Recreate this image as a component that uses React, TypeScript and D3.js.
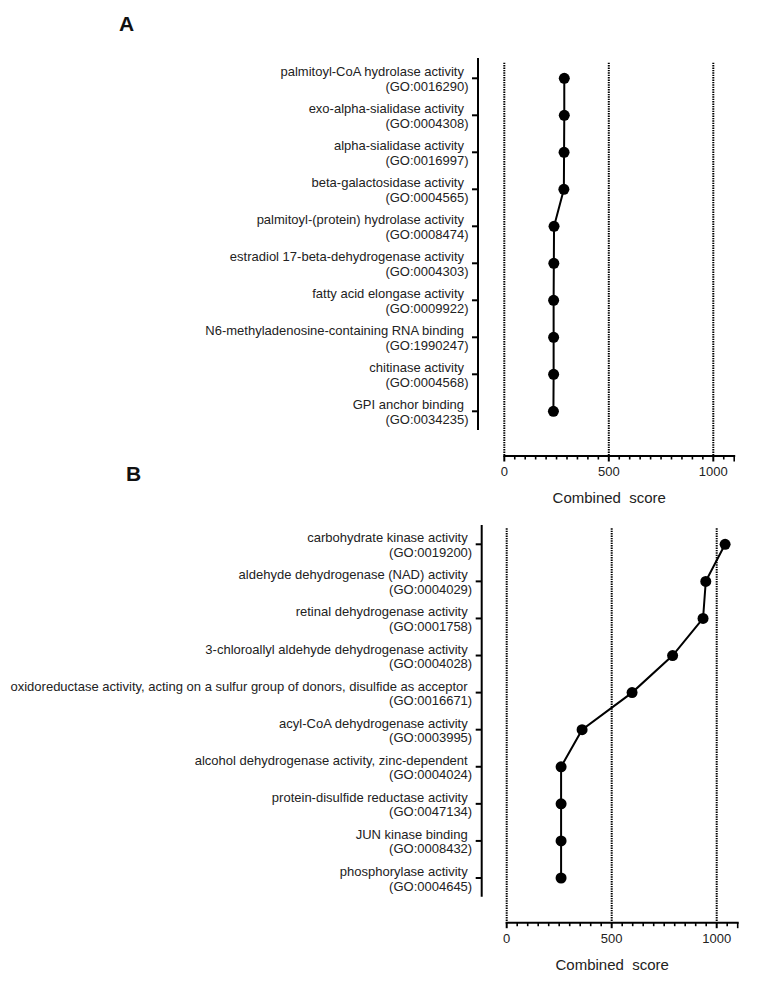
import React from "react";
import * as d3 from "d3";

const termsA = [
  "palmitoyl-CoA hydrolase activity",
  "exo-alpha-sialidase activity",
  "alpha-sialidase activity",
  "beta-galactosidase activity",
  "palmitoyl-(protein) hydrolase activity",
  "estradiol 17-beta-dehydrogenase activity",
  "fatty acid elongase activity",
  "N6-methyladenosine-containing RNA binding",
  "chitinase activity",
  "GPI anchor binding",
];
const goA = [
  "GO:0016290", "GO:0004308", "GO:0016997", "GO:0004565", "GO:0008474",
  "GO:0004303", "GO:0009922", "GO:1990247", "GO:0004568", "GO:0034235",
];
const scoresA = [287, 287, 286, 285, 238, 237, 236, 236, 236, 235];

const termsB = [
  "carbohydrate kinase activity",
  "aldehyde dehydrogenase (NAD) activity",
  "retinal dehydrogenase activity",
  "3-chloroallyl aldehyde dehydrogenase activity",
  "oxidoreductase activity, acting on a sulfur group of donors, disulfide as acceptor",
  "acyl-CoA dehydrogenase activity",
  "alcohol dehydrogenase activity, zinc-dependent",
  "protein-disulfide reductase activity",
  "JUN kinase binding",
  "phosphorylase activity",
];
const goB = [
  "GO:0019200", "GO:0004029", "GO:0001758", "GO:0004028", "GO:0016671",
  "GO:0003995", "GO:0004024", "GO:0047134", "GO:0008432", "GO:0004645",
];
const scoresB = [1040, 948, 935, 790, 597, 359, 259, 259, 259, 259];

const majorTicks = [0, 500, 1000];
const xDomain = [0, 1100];
const minorStep = 50;
const axisTitle = "Combined\u00a0\u00a0score";

const FONT = "'Liberation Sans', Arial, Helvetica, sans-serif";
const TEXT = "#222";

type PanelProps = {
  letter: string;
  letterX: number;
  letterY: number;
  terms: string[];
  gos: string[];
  scores: number[];
  axisX: number;
  yTop: number;
  yBottom: number;
  firstCat: number;
  lastCat: number;
  x0: number;
  x1000: number;
  gridTop: number;
  xAxisY: number;
};

function Panel(p: PanelProps) {
  const pxPerUnit = (p.x1000 - p.x0) / 1000;
  const x = d3
    .scaleLinear()
    .domain(xDomain)
    .range([p.x0, p.x0 + pxPerUnit * xDomain[1]]);
  const y = d3
    .scalePoint<string>()
    .domain(p.terms)
    .range([p.firstCat, p.lastCat]);
  const minor = d3.range(xDomain[0], xDomain[1] + 1, minorStep);
  const line = d3
    .line<number>()
    .x((d) => x(d))
    .y((_, i) => y(p.terms[i]) as number);

  return (
    <g>
      <text
        x={p.letterX}
        y={p.letterY}
        fontFamily={FONT}
        fontWeight="bold"
        fontSize={21}
        fill="#111"
      >
        {p.letter}
      </text>
      {majorTicks.map((t) => (
        <line
          key={"g" + t}
          x1={x(t)}
          x2={x(t)}
          y1={p.gridTop}
          y2={p.xAxisY}
          stroke="#000"
          strokeWidth={2}
          strokeDasharray="1.4 1"
        />
      ))}
      <line
        x1={p.axisX}
        x2={p.axisX}
        y1={p.yTop}
        y2={p.yBottom}
        stroke="#000"
        strokeWidth={2}
      />
      {p.terms.map((t, i) => {
        const cy = y(t) as number;
        return (
          <g key={t}>
            <line
              x1={p.axisX - 6}
              x2={p.axisX}
              y1={cy}
              y2={cy}
              stroke="#000"
              strokeWidth={2}
            />
            <text
              x={p.axisX - 14}
              y={cy - 2}
              textAnchor="end"
              fontFamily={FONT}
              fontSize={13}
              fill={TEXT}
            >
              {t}
            </text>
            <text
              x={p.axisX - 9.5}
              y={cy + 12.5}
              textAnchor="end"
              fontFamily={FONT}
              fontSize={13}
              fill={TEXT}
            >
              {"(" + p.gos[i] + ")"}
            </text>
          </g>
        );
      })}
      <line
        x1={x(xDomain[0]) - 1}
        x2={x(xDomain[1]) + 1}
        y1={p.xAxisY}
        y2={p.xAxisY}
        stroke="#000"
        strokeWidth={2}
      />
      {minor.map((t) => (
        <line
          key={"m" + t}
          x1={x(t)}
          x2={x(t)}
          y1={p.xAxisY}
          y2={p.xAxisY + (majorTicks.includes(t) || t === xDomain[1] ? 5.5 : 3.5)}
          stroke="#000"
          strokeWidth={majorTicks.includes(t) ? 2 : 1.6}
        />
      ))}
      {majorTicks.map((t) => (
        <text
          key={"l" + t}
          x={x(t)}
          y={p.xAxisY + 20}
          textAnchor="middle"
          fontFamily={FONT}
          fontSize={13}
          fill={TEXT}
        >
          {t}
        </text>
      ))}
      <text
        x={(x(0) + x(xDomain[1])) / 2 - 10}
        y={p.xAxisY + 47}
        textAnchor="middle"
        fontFamily={FONT}
        fontSize={15}
        fill={TEXT}
      >
        {axisTitle}
      </text>
      <path d={line(p.scores) || ""} fill="none" stroke="#000" strokeWidth={2} />
      {p.scores.map((s, i) => (
        <circle
          key={"c" + i}
          cx={x(s)}
          cy={y(p.terms[i]) as number}
          r={5.5}
          fill="#000"
        />
      ))}
    </g>
  );
}

export default function App() {
  return (
    <div style={{ position: "absolute", left: 0, top: 0 }}>
      <svg width={773} height={983} style={{ display: "block" }}>
        <rect width={773} height={983} fill="#fff" />
        <Panel
          letter="A"
          letterX={119}
          letterY={31}
          terms={termsA}
          gos={goA}
          scores={scoresA}
          axisX={478}
          yTop={58}
          yBottom={430}
          firstCat={78.3}
          lastCat={411.3}
          x0={504.3}
          x1000={713.3}
          gridTop={62.7}
          xAxisY={456}
        />
        <Panel
          letter="B"
          letterX={126}
          letterY={481}
          terms={termsB}
          gos={goB}
          scores={scoresB}
          axisX={481.7}
          yTop={525}
          yBottom={896.7}
          firstCat={544.3}
          lastCat={878}
          x0={506.7}
          x1000={716.7}
          gridTop={528.3}
          xAxisY={922.7}
        />
      </svg>
    </div>
  );
}
